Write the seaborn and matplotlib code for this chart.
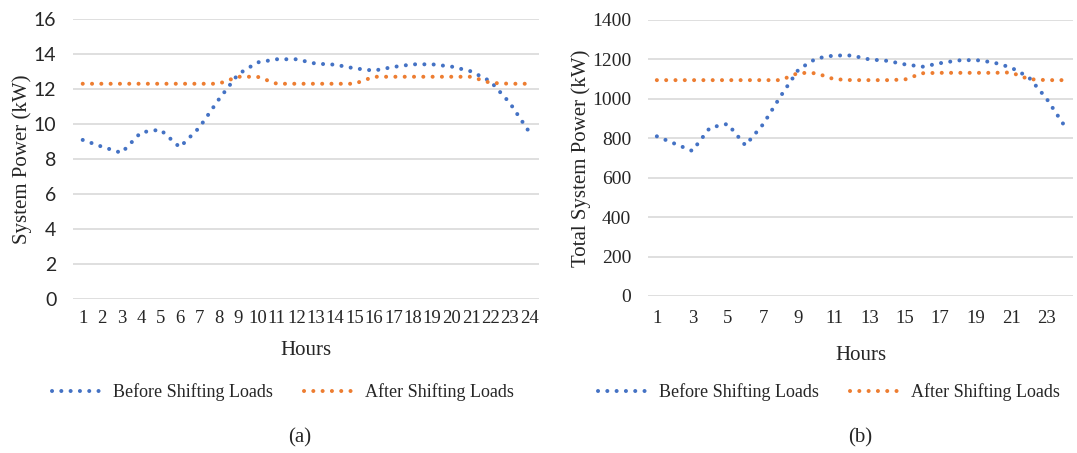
import numpy as np
import pandas as pd
import seaborn as sns
import matplotlib
matplotlib.use("Agg")
import matplotlib.pyplot as plt

# Hourly system power, single building (kW)
hours = list(range(1, 25))
before_a = [9.09, 8.70, 8.35, 9.52, 9.68, 8.67, 9.79, 11.39, 12.84, 13.52, 13.70, 13.70,
            13.45, 13.39, 13.18, 13.05, 13.26, 13.41, 13.41, 13.28, 13.01, 12.44, 11.20, 9.54]
after_a = [12.3, 12.3, 12.3, 12.3, 12.3, 12.3, 12.3, 12.3, 12.7, 12.7, 12.3, 12.3,
           12.3, 12.3, 12.3, 12.7, 12.7, 12.7, 12.7, 12.7, 12.7, 12.35, 12.3, 12.3]

# Hourly total system power (kW)
before_b = [810, 773, 736, 854, 873, 764, 871, 1015, 1149, 1205, 1220, 1220,
            1200, 1193, 1175, 1163, 1181, 1195, 1197, 1185, 1159, 1110, 1002, 866]
after_b = [1095, 1095, 1095, 1095, 1095, 1095, 1095, 1095, 1132, 1130, 1100, 1095,
           1095, 1095, 1098, 1130, 1132, 1132, 1132, 1132, 1134, 1100, 1095, 1095]

series_names = ["Before Shifting Loads", "After Shifting Loads"]
ticks_a = [0, 2, 4, 6, 8, 10, 12, 14, 16]
ticks_b = [0, 200, 400, 600, 800, 1000, 1200, 1400]

BLUE = "#4472C4"
ORANGE = "#ED7D31"
GRID = "#D9D9D9"
SERIF = ["Liberation Serif", "DejaVu Serif"]
SANS = ["Lato", "DejaVu Sans"]

sns.set_theme(style="white")
plt.rcParams["font.family"] = SERIF

fig = plt.figure(figsize=(10.77, 4.53), dpi=100)
ax_a = fig.add_axes([73 / 1077, 1 - 299 / 453, 466 / 1077, 280 / 453])
ax_b = fig.add_axes([648 / 1077, 1 - 296 / 453, 425 / 1077, 276 / 453])

dot_style = dict(linewidth=2.9, linestyle=(0, (0.01, 2.3)), dash_capstyle="round")


def draw(ax, before, after, yticks, ylabel, xticks, ytick_font,
         ylabel_pad, xtick_pad, xlabel_pad):
    df = pd.DataFrame({
        "Hour": hours * 2,
        "Power": before + after,
        "Series": [series_names[0]] * 24 + [series_names[1]] * 24,
    })
    for name, color in zip(series_names, [BLUE, ORANGE]):
        sub = df[df["Series"] == name]
        sns.lineplot(data=sub, x="Hour", y="Power", ax=ax, color=color,
                     label=name, clip_on=False, **dot_style)
    ax.set_xlim(0.5, 24.5)
    ax.set_ylim(yticks[0], yticks[-1])
    ax.set_yticks(yticks)
    ax.set_yticklabels([str(t) for t in yticks], family=ytick_font, fontsize=14)
    ax.set_xticks(xticks)
    ax.set_xticklabels([str(t) for t in xticks], family=SERIF, fontsize=13.5)
    ax.yaxis.grid(True, color=GRID, linewidth=1.2)
    ax.xaxis.grid(False)
    for s in ax.spines.values():
        s.set_visible(False)
    ax.tick_params(axis="both", length=0)
    ax.tick_params(axis="y", pad=12)
    ax.tick_params(axis="x", pad=xtick_pad)
    ax.set_xlabel("Hours", fontsize=15, labelpad=xlabel_pad)
    ax.set_ylabel(ylabel, fontsize=15, labelpad=ylabel_pad)
    ax.legend_.remove()


draw(ax_a, before_a, after_a, ticks_a, "System Power (kW)", hours, SANS, 1, 8, 10)
draw(ax_b, before_b, after_b, ticks_b, "Total System Power (kW)", hours[::2], SERIF, 1, 10, 14)

for ax, xc in [(ax_a, 283 / 1077), (ax_b, 829 / 1077)]:
    handles, labels = ax.get_legend_handles_labels()
    fig.legend(handles, labels, loc="center", bbox_to_anchor=(xc, 1 - 392 / 453),
               ncol=2, frameon=False, fontsize=13, handlelength=2.9,
               handletextpad=0.5, columnspacing=1.7)

fig.text(300 / 1077, 1 - 438 / 453, "(a)", ha="center", va="center", fontsize=15)
fig.text(860 / 1077, 1 - 438 / 453, "(b)", ha="center", va="center", fontsize=15)

fig.savefig("out.png", dpi=100, facecolor="white")
